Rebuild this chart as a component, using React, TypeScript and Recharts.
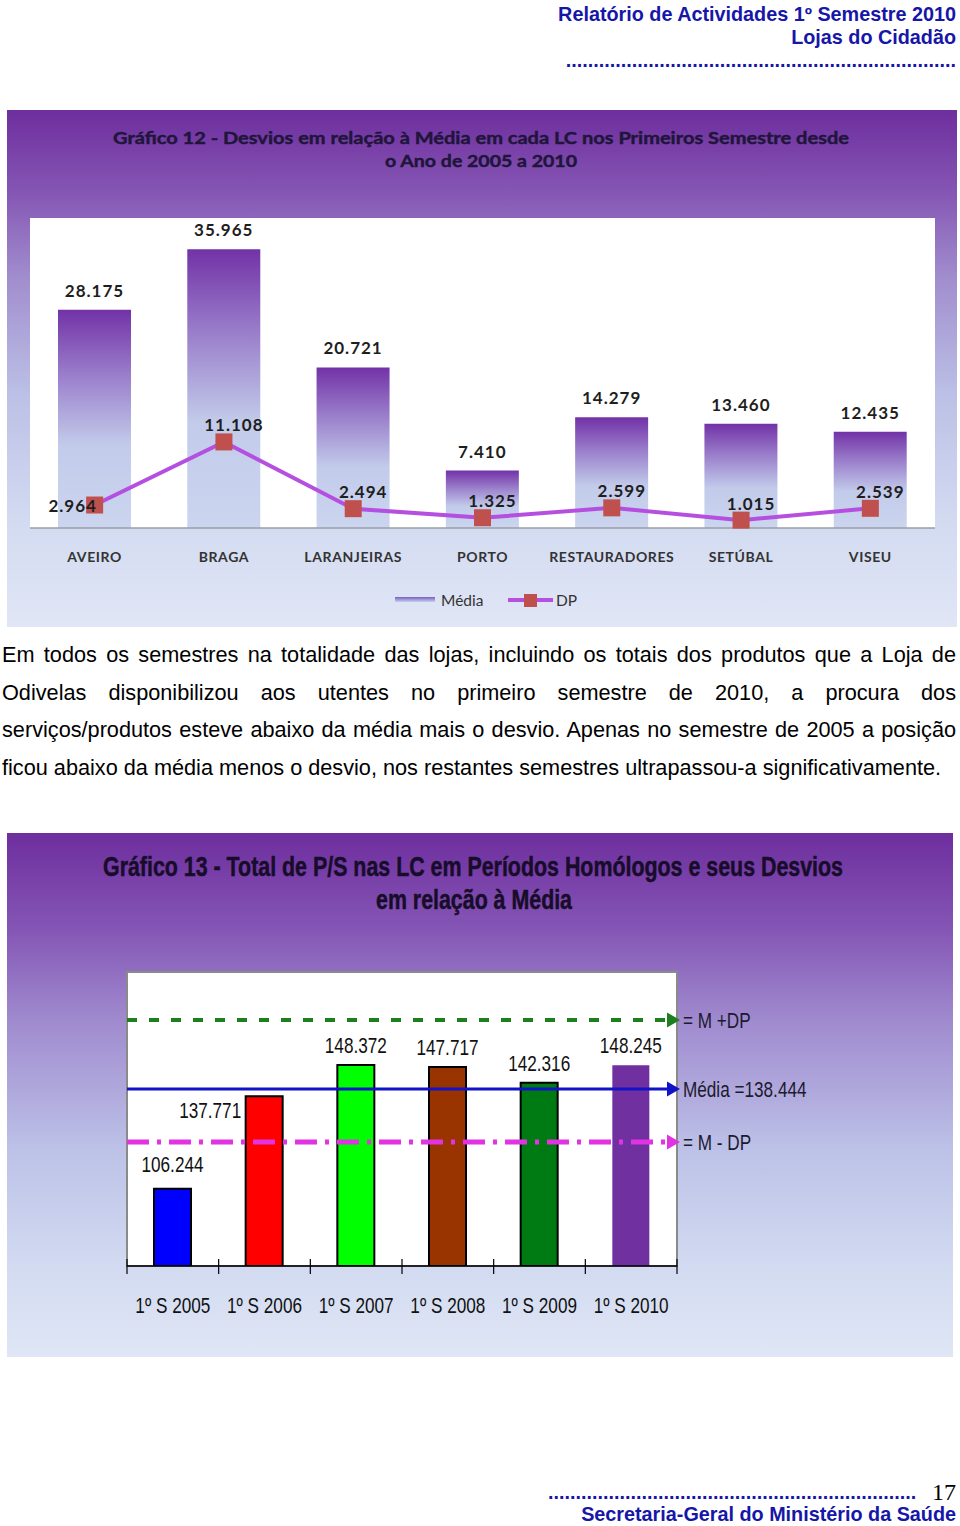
import React from "react";
import {
  Bar,
  CartesianGrid,
  Cell,
  ComposedChart,
  LabelList,
  Line,
  ReferenceArea,
  ReferenceLine,
  XAxis,
  YAxis,
} from "recharts";

// Gráfico 12 – média e desvio padrão por loja
const STORES = ["AVEIRO", "BRAGA", "LARANJEIRAS", "PORTO", "RESTAURADORES", "SETÚBAL", "VISEU"];
const STORE_MEAN = [28175, 35965, 20721, 7410, 14279, 13460, 12435];
const STORE_DP = [2964, 11108, 2494, 1325, 2599, 1015, 2539];

// Gráfico 13 – totais por semestre
const SEMESTERS = ["1º S 2005", "1º S 2006", "1º S 2007", "1º S 2008", "1º S 2009", "1º S 2010"];
const SEMESTER_TOTALS = [106244, 137771, 148372, 147717, 142316, 148245];
const SEMESTER_COLORS = ["#0000ff", "#ff0000", "#00ff00", "#993300", "#007a12", "#7030a0"];

// linhas de referência (posição)
const GUIDE_VALUES = [163700, 140200, 122200];
const GUIDE_LABELS = ["= M +DP", "Média =138.444", "= M - DP"];

const GUIDE_STYLES = [
  { color: "#1d7f1d", dash: "10 12", width: 4 },
  { color: "#1212c8", dash: undefined, width: 3 },
  { color: "#e233e2", dash: "22 8 4 8", width: 5 },
];

const BLUE = "#1616a8";
const SANS = "'Liberation Sans', Arial, sans-serif";
const LATO = "Lato, 'Open Sans', sans-serif";

const fmt = (n: number) => String(n).replace(/\B(?=(\d{3})+(?!\d))/g, ".");

function pos(props: any) {
  const vb = props.viewBox || {};
  return {
    x: vb.x ?? props.x ?? 0,
    y: vb.y ?? props.y ?? 0,
    width: vb.width ?? props.width ?? 0,
  };
}

// texto "Arial Narrow": Liberation Sans comprimida na horizontal
function NarrowText(props: any) {
  const { x, y, anchor = "middle", size = 22, weight = 400, fill = "#111", central = false, children } = props;
  return (
    <text
      transform={`translate(${x},${y}) scale(0.78,1)`}
      textAnchor={anchor}
      dominantBaseline={central ? "central" : undefined}
      fontFamily={SANS}
      fontSize={size}
      fontWeight={weight}
      fill={fill}
    >
      {children}
    </text>
  );
}

function SquareDot(props: any) {
  const { cx, cy } = props;
  if (cx == null || cy == null) return null;
  return <rect x={cx - 8.5} y={cy - 8.5} width={17} height={17} fill="#c0504d" />;
}

function StoreBarLabel(props: any) {
  const { x, y, width } = pos(props);
  return (
    <text
      x={x + width / 2}
      y={y - 13}
      textAnchor="middle"
      fontFamily={LATO}
      fontWeight={700}
      fontSize={17}
      letterSpacing={1}
      fill="#1e1e1e"
    >
      {fmt(props.value)}
    </text>
  );
}

function DpLabel(props: any) {
  const { x, y } = pos(props);
  const first = props.index === 0;
  return (
    <text
      x={x + (first ? -22 : 10)}
      y={y + (first ? 0 : -17)}
      textAnchor="middle"
      dominantBaseline="central"
      fontFamily={LATO}
      fontWeight={700}
      fontSize={17}
      letterSpacing={1}
      fill="#1e1e1e"
    >
      {fmt(props.value)}
    </text>
  );
}

function StoreTick(props: any) {
  const { x, y, payload } = props;
  return (
    <text
      x={x}
      y={y + 26}
      textAnchor="middle"
      dominantBaseline="central"
      fontFamily={LATO}
      fontWeight={700}
      fontSize={14}
      letterSpacing={0.6}
      fill="#333"
    >
      {payload.value}
    </text>
  );
}

function SemesterTick(props: any) {
  const { x, y, payload, index, visibleTicksCount } = props;
  const half = payload.offset || 45.8;
  return (
    <g>
      <line x1={x - half} x2={x - half} y1={y - 7} y2={y + 8} stroke="#000" strokeWidth={1.2} />
      {index === visibleTicksCount - 1 && (
        <line x1={x + half} x2={x + half} y1={y - 7} y2={y + 8} stroke="#000" strokeWidth={1.2} />
      )}
      <NarrowText x={x} y={y + 39} central>
        {payload.value}
      </NarrowText>
    </g>
  );
}

function SemesterLabel(props: any) {
  const { x, y, width } = pos(props);
  const shifted = props.index === 1;
  const cx = x + width / 2 + (shifted ? -54 : 0);
  const by = shifted ? y + 22 : y - (props.index === 0 ? 17 : 12);
  return (
    <NarrowText x={cx} y={by}>
      {fmt(props.value)}
    </NarrowText>
  );
}

function Guide(props: any) {
  const { x1, y1, x2, idx } = props;
  const s = GUIDE_STYLES[idx];
  return (
    <g>
      <line x1={x1} y1={y1} x2={x2 - 8} y2={y1} stroke={s.color} strokeWidth={s.width} strokeDasharray={s.dash} />
      <polygon points={`${x2 - 10},${y1 - 7.5} ${x2 + 3},${y1} ${x2 - 10},${y1 + 7.5}`} fill={s.color} />
      <NarrowText x={x2 + 6} y={y1} anchor="start" fill="#1c1a30" central>
        {GUIDE_LABELS[idx]}
      </NarrowText>
    </g>
  );
}

const storeData = STORES.map((name, i) => ({ name, media: STORE_MEAN[i], dp: STORE_DP[i] }));
const semesterData = SEMESTERS.map((name, i) => ({ name, total: SEMESTER_TOTALS[i] }));

const paragraph = [
  "Em todos os semestres na totalidade das lojas, incluindo os totais dos produtos que a Loja de",
  "Odivelas disponibilizou aos utentes no primeiro semestre de 2010, a procura dos",
  "serviços/produtos esteve abaixo da média mais o desvio. Apenas no semestre de 2005 a posição",
  "ficou abaixo da média menos o desvio, nos restantes semestres ultrapassou-a significativamente.",
];

const abs = (left: number, top: number, extra: React.CSSProperties = {}): React.CSSProperties => ({
  position: "absolute",
  left,
  top,
  ...extra,
});

const blueBold: React.CSSProperties = {
  color: BLUE,
  font: `bold 19.8px ${SANS}`,
  whiteSpace: "nowrap",
};

export default function App() {
  return (
    <div style={{ position: "absolute", left: 0, top: 0, width: 960, height: 1526, background: "#fff", overflow: "hidden" }}>
      {/* cabeçalho */}
      <div style={{ ...blueBold, position: "absolute", right: 4, top: 2.5, textAlign: "right", lineHeight: "23px" }}>
        Relatório de Actividades 1º Semestre 2010
        <br />
        Lojas do Cidadão
      </div>
      <div
        style={{
          ...blueBold,
          position: "absolute",
          right: 4,
          top: 50,
          width: 393,
          overflow: "hidden",
          textAlign: "right",
          lineHeight: "20px",
        }}
      >
        {".".repeat(71)}
      </div>

      {/* Gráfico 12 */}
      <div
        style={abs(7, 110, {
          width: 950,
          height: 517,
          background:
            "linear-gradient(to bottom, #6e2e9e 0%, #8556b4 16%, #a08ccd 32%, #bcc0e6 55%, #d3dbf1 80%, #e0e6f5 100%)",
        })}
      >
        <ComposedChart width={950} height={517} data={storeData} margin={{ top: 108, right: 22, bottom: 69, left: 23 }}>
          <defs>
            <linearGradient id="storeBar" x1="0" y1="0" x2="0" y2="1">
              <stop offset="0%" stopColor="#7232a6" />
              <stop offset="30%" stopColor="#9a7ecb" />
              <stop offset="62%" stopColor="#c2cbea" />
              <stop offset="100%" stopColor="#cbd5ef" />
            </linearGradient>
          </defs>
          <CartesianGrid horizontal={false} vertical={false} fill="#ffffff" />
          <XAxis
            dataKey="name"
            height={30}
            interval={0}
            tickLine={false}
            tickSize={0}
            axisLine={{ stroke: "#9c9ca6", strokeWidth: 1.5 }}
            tick={<StoreTick />}
          />
          <YAxis hide domain={[0, 40000]} />
          <Bar dataKey="media" barSize={73} fill="url(#storeBar)" isAnimationActive={false}>
            <LabelList dataKey="media" content={StoreBarLabel} />
          </Bar>
          <Line
            dataKey="dp"
            stroke="#b44fe0"
            strokeWidth={4}
            dot={<SquareDot />}
            activeDot={false}
            isAnimationActive={false}
          >
            <LabelList dataKey="dp" content={DpLabel} />
          </Line>
        </ComposedChart>
      </div>

      {/* Gráfico 13 */}
      <div
        style={abs(7, 833, {
          width: 946,
          height: 524,
          background:
            "linear-gradient(to bottom, #6e2e9e 0%, #8455b4 18%, #a08bcf 36%, #bcc1e7 60%, #d2daf1 82%, #dfe6f5 100%)",
        })}
      >
        <ComposedChart width={946} height={524} data={semesterData} margin={{ top: 139, right: 276, bottom: 51, left: 120 }}>
          <CartesianGrid horizontal={false} vertical={false} fill="#ffffff" />
          <ReferenceArea y1={80000} y2={180000} fill="none" stroke="#8a8a8a" strokeWidth={2} />
          <XAxis
            dataKey="name"
            height={40}
            interval={0}
            tickLine={false}
            tickSize={0}
            tickMargin={0}
            axisLine={{ stroke: "#000", strokeWidth: 1.5 }}
            tick={<SemesterTick />}
          />
          <YAxis hide domain={[80000, 180000]} allowDataOverflow />
          <Bar dataKey="total" barSize={37} isAnimationActive={false}>
            {SEMESTER_COLORS.map((c, i) => (
              <Cell
                key={i}
                fill={c}
                stroke={i === SEMESTER_COLORS.length - 1 ? "none" : "#000"}
                strokeWidth={2}
              />
            ))}
            <LabelList dataKey="total" content={SemesterLabel} />
          </Bar>
          {GUIDE_VALUES.map((v, i) => (
            <ReferenceLine key={i} y={v} stroke="none" shape={(p: any) => <Guide {...p} idx={i} />} />
          ))}
        </ComposedChart>
      </div>

      {/* títulos e legenda */}
      <svg width={960} height={1526} style={{ position: "absolute", left: 0, top: 0, pointerEvents: "none" }}>
        <defs>
          <linearGradient id="legendMedia" x1="0" y1="0" x2="0" y2="1">
            <stop offset="0%" stopColor="#7a5fbf" />
            <stop offset="100%" stopColor="#c6cfee" />
          </linearGradient>
        </defs>
        <g
          fontFamily={LATO}
          fontWeight={700}
          fontSize={17.5}
          fill="#20153a"
          stroke="#20153a"
          strokeWidth={0.45}
          textAnchor="middle"
        >
          <text x={481} y={137} dominantBaseline="central" textLength={736} lengthAdjust="spacingAndGlyphs">
            Gráfico 12 - Desvios em relação à Média em cada LC nos Primeiros Semestre desde
          </text>
          <text x={481} y={160} dominantBaseline="central" textLength={192} lengthAdjust="spacingAndGlyphs">
            o Ano de 2005 a 2010
          </text>
        </g>
        <g fontFamily={LATO} fontSize={15.5} fill="#333">
          <rect x={395} y={597} width={40} height={5} fill="url(#legendMedia)" />
          <text x={441} y={600} dominantBaseline="central">Média</text>
          <line x1={508} x2={553} y1={600} y2={600} stroke="#b44fe0" strokeWidth={4} />
          <rect x={524} y={594} width={13} height={13} fill="#c0504d" />
          <text x={556} y={600} dominantBaseline="central">DP</text>
        </g>
        <g
          fontFamily={SANS}
          fontWeight={700}
          fontSize={19.5}
          fill="#170d2a"
          stroke="#170d2a"
          strokeWidth={0.35}
          textAnchor="middle"
        >
          <text
            transform="translate(473,866) scale(1,1.42)"
            dominantBaseline="central"
            textLength={740}
            lengthAdjust="spacingAndGlyphs"
          >
            Gráfico 13 - Total de P/S nas LC em Períodos Homólogos e seus Desvios
          </text>
          <text
            transform="translate(474,899) scale(1,1.42)"
            dominantBaseline="central"
            textLength={196}
            lengthAdjust="spacingAndGlyphs"
          >
            em relação à Média
          </text>
        </g>
      </svg>

      {/* texto */}
      <div
        style={abs(2, 636, {
          width: 954,
          font: `21.7px ${SANS}`,
          lineHeight: "37.5px",
          color: "#000",
        })}
      >
        {paragraph.map((line, i) => (
          <div
            key={i}
            style={{
              whiteSpace: "nowrap",
              textAlign: "justify",
              textAlignLast: i === paragraph.length - 1 ? "left" : "justify",
            }}
          >
            {line}
          </div>
        ))}
      </div>

      {/* rodapé */}
      <div
        style={{
          ...blueBold,
          position: "absolute",
          left: 548,
          top: 1481.5,
          width: 372,
          overflow: "hidden",
          lineHeight: "20px",
        }}
      >
        {".".repeat(67)}
      </div>
      <div
        style={{
          position: "absolute",
          right: 4,
          top: 1482,
          font: "24px 'Liberation Serif', 'Times New Roman', serif",
          lineHeight: "20px",
          color: "#000",
        }}
      >
        17
      </div>
      <div style={{ ...blueBold, position: "absolute", right: 4, top: 1505, lineHeight: "18px" }}>
        Secretaria-Geral do Ministério da Saúde
      </div>
    </div>
  );
}
